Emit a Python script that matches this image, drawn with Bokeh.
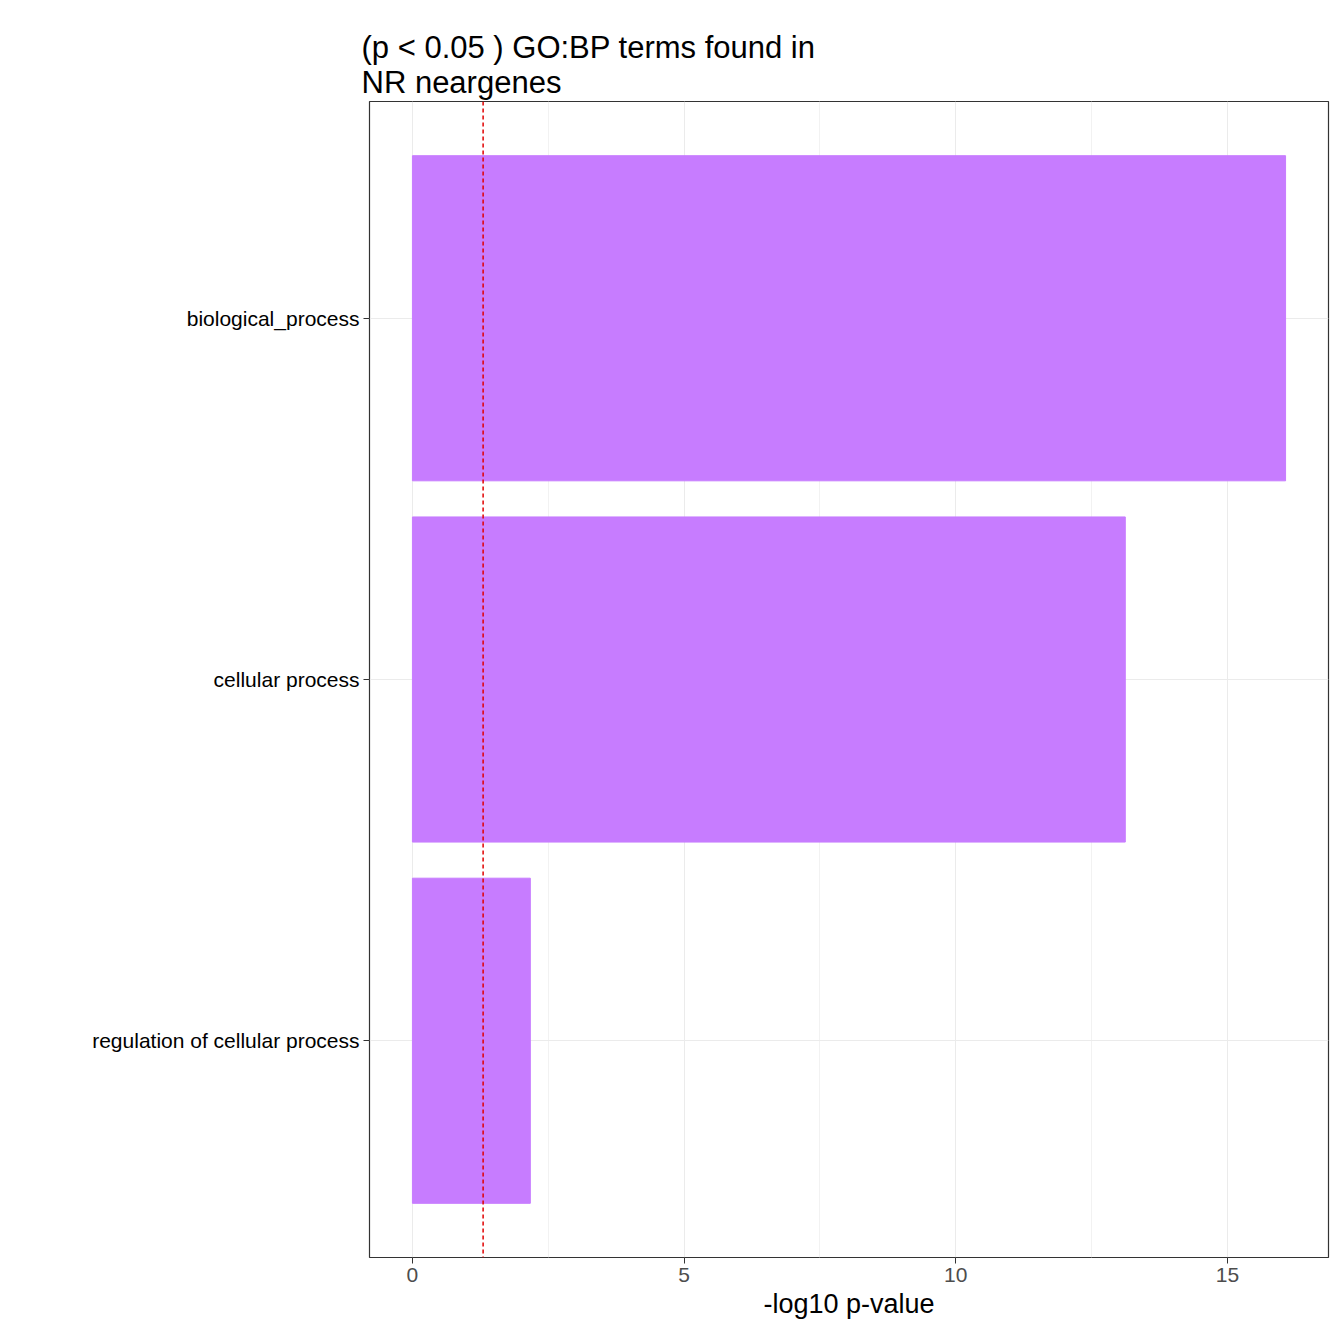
from bokeh.plotting import figure
from bokeh.models import Span, FixedTicker, Range1d
from bokeh.embed import file_html
from bokeh.resources import INLINE

terms = ["biological_process", "cellular process", "regulation of cellular process"]
neg_log_p = [16.07, 13.12, 2.17]
threshold = 1.301
x_ticks = [0, 5, 10, 15]

ypos = list(range(1, len(terms) + 1))

p = figure(width=1336, height=1336, output_backend="svg", toolbar_location=None,
           x_range=Range1d(-0.79, 16.86), y_range=Range1d(3.6, 0.4),
           min_border_left=369, min_border_right=8, min_border_top=101, min_border_bottom=79)
p.title.text = "(p < 0.05 ) GO:BP terms found in\n NR neargenes"
p.title.text_font = "Liberation Sans"
p.title.text_font_size = "31px"
p.title.text_font_style = "normal"
p.title.text_color = "black"
p.title.offset = -8
p.title.standoff = 4

p.hbar(y=ypos, right=neg_log_p, left=0, height=0.9, color="#C77CFF")
p.add_layout(Span(location=threshold, dimension="height", line_color="#E00000",
                  line_dash="4 3", line_width=1.5))

p.outline_line_color = "#333333"
p.outline_line_width = 1.2
p.xaxis.ticker = FixedTicker(ticks=x_ticks, minor_ticks=[2.5, 7.5, 12.5])
p.yaxis.ticker = FixedTicker(ticks=ypos)
p.yaxis.major_label_overrides = {i: t for i, t in zip(ypos, terms)}
for ax in (p.xaxis, p.yaxis):
    ax.axis_line_color = None
    ax.major_tick_line_color = "#333333"
    ax.major_tick_in = 0
    ax.major_tick_out = 6
    ax.minor_tick_line_color = None
    ax.major_label_text_font = "Liberation Sans"
    ax.major_label_text_font_size = "21px"
    ax.major_label_standoff = 4
p.xaxis.major_label_text_color = "#4d4d4d"
p.yaxis.major_label_text_color = "black"
p.xaxis.axis_label = "-log10 p-value"
p.xaxis.axis_label_text_font = "Liberation Sans"
p.xaxis.axis_label_text_font_size = "27px"
p.xaxis.axis_label_text_font_style = "normal"
p.xaxis.axis_label_text_color = "black"
p.xaxis.axis_label_standoff = 4
p.xgrid.grid_line_color = "#ebebeb"
p.xgrid.minor_grid_line_color = "#f2f2f2"
p.ygrid.grid_line_color = "#ebebeb"

open("out.html", "w").write(file_html(p, INLINE))
